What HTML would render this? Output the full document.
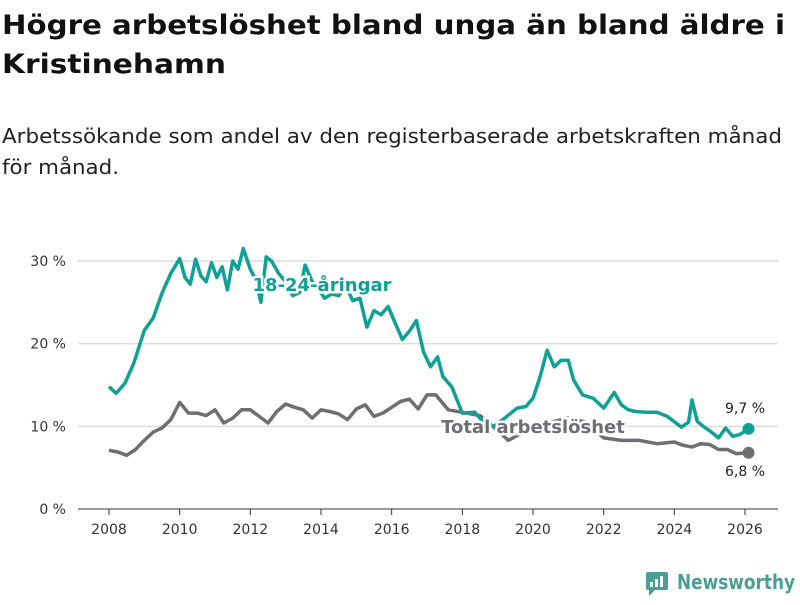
<!DOCTYPE html>
<html><head><meta charset="utf-8"><style>
body{margin:0;background:#fff;}
svg text{font-family:"DejaVu Sans","Liberation Sans",sans-serif;}
</style></head><body>
<svg id="chart" width="800" height="600" xmlns="http://www.w3.org/2000/svg">
<text x="2" y="34" font-size="27" font-weight="bold" fill="#111" textLength="783" lengthAdjust="spacingAndGlyphs">Högre arbetslöshet bland unga än bland äldre i</text>
<text x="2" y="73" font-size="27" font-weight="bold" fill="#111" textLength="224" lengthAdjust="spacingAndGlyphs">Kristinehamn</text>
<text x="2" y="143" font-size="20" fill="#222" textLength="780" lengthAdjust="spacingAndGlyphs">Arbetssökande som andel av den registerbaserade arbetskraften månad</text>
<text x="2" y="174" font-size="20" fill="#222" textLength="117" lengthAdjust="spacingAndGlyphs">för månad.</text>
<g id="grid"></g><g id="xaxis"></g><g id="series"></g><g id="labels"></g>
<g transform="translate(646,572)">
<rect x="0" y="0" width="22" height="18" rx="2" fill="#4a9e94"/><path d="M3,18 L3,24 L9,18 Z" fill="#4a9e94"/>
<rect x="4" y="10" width="3" height="5" fill="#fff"/><rect x="9" y="7" width="3" height="8" fill="#fff"/><rect x="14" y="4" width="3" height="11" fill="#fff"/>
<text x="31" y="17" font-size="20" font-weight="bold" fill="#4a9e94" textLength="118" lengthAdjust="spacingAndGlyphs">Newsworthy</text>
</g>
</svg>
<script>
const yTicks=[0,10,20,30];
const yTickLabels=["0 %","10 %","20 %","30 %"];
const xTicks=[2008,2010,2012,2014,2016,2018,2020,2022,2024,2026];
const youthDates=[2008,2008.2,2008.45,2008.7,2009,2009.25,2009.5,2009.75,2010,2010.15,2010.3,2010.45,2010.6,2010.75,2010.9,2011.05,2011.2,2011.35,2011.5,2011.65,2011.8,2012,2012.15,2012.3,2012.45,2012.6,2012.8,2013,2013.2,2013.4,2013.55,2013.75,2013.95,2014.1,2014.3,2014.5,2014.7,2014.9,2015.1,2015.3,2015.5,2015.7,2015.9,2016.1,2016.3,2016.5,2016.7,2016.9,2017.1,2017.3,2017.45,2017.7,2018,2018.35,2018.6,2018.9,2019.2,2019.55,2019.8,2020,2020.2,2020.4,2020.6,2020.8,2021,2021.15,2021.4,2021.7,2022,2022.3,2022.5,2022.7,2022.9,2023.2,2023.5,2023.8,2024.2,2024.4,2024.5,2024.65,2024.85,2025.05,2025.25,2025.45,2025.65,2025.85,2026.1];
const youthValues=[14.8,14.0,15.2,17.6,21.6,23.1,26.1,28.5,30.3,28.0,27.2,30.2,28.2,27.5,29.8,28.0,29.3,26.5,30.0,29.0,31.5,29.0,27.8,25.0,30.5,30.0,28.5,27.5,25.8,26.2,29.5,27.5,26.5,25.5,26.0,25.8,27.0,25.2,25.5,22.0,24.0,23.5,24.5,22.5,20.5,21.5,22.8,19.0,17.2,18.4,16.0,14.8,11.6,11.7,10.5,10.0,11.0,12.2,12.4,13.4,16.0,19.2,17.2,18.0,18.0,15.6,13.8,13.4,12.2,14.1,12.6,12.0,11.8,11.7,11.7,11.2,9.9,10.5,13.2,10.6,9.9,9.3,8.6,9.8,8.8,9.0,9.7];
const totalDates=[2008,2008.25,2008.5,2008.75,2009,2009.25,2009.5,2009.75,2010,2010.25,2010.5,2010.75,2011,2011.25,2011.5,2011.75,2012,2012.25,2012.5,2012.75,2013,2013.25,2013.5,2013.75,2014,2014.25,2014.5,2014.75,2015,2015.25,2015.5,2015.75,2016,2016.25,2016.5,2016.75,2017,2017.25,2017.6,2018,2018.5,2019,2019.3,2019.6,2020,2020.5,2021,2021.5,2022,2022.5,2023,2023.5,2024,2024.25,2024.5,2024.75,2025,2025.25,2025.5,2025.75,2026.1];
const totalValues=[7.1,6.9,6.5,7.2,8.3,9.3,9.8,10.8,12.9,11.6,11.6,11.3,12.0,10.4,11.0,12.0,12.0,11.2,10.4,11.8,12.7,12.3,12.0,11.0,12.0,11.8,11.5,10.8,12.1,12.6,11.2,11.6,12.3,13.0,13.3,12.1,13.8,13.8,12.0,11.7,11.3,9.5,8.3,9.0,9.5,10.5,11.0,10.5,8.6,8.3,8.3,7.9,8.1,7.7,7.5,7.9,7.8,7.2,7.2,6.7,6.8];
const NS="http://www.w3.org/2000/svg";
const X=y=>109+(y-2008)*(745-109)/18;
const Y=v=>509-v*(509-261)/30;
function mk(tag,parent,attrs){const e=document.createElementNS(NS,tag);for(const k in attrs)e.setAttribute(k,attrs[k]);document.getElementById(parent).appendChild(e);return e;}
yTicks.forEach((t,i)=>{
 const l=mk('line','grid',{x1:78,x2:778,y1:Y(t),y2:Y(t),stroke:t===0?'#333':'#ddd','stroke-width':t===0?1:1.5});
 
 
 const tx=mk('text','grid',{x:66,y:Y(t)+5,'font-size':14,fill:'#333','text-anchor':'end'});tx.textContent=yTickLabels[i];
 
 
});
xTicks.forEach(t=>{
 const l=mk('line','xaxis',{x1:X(t),x2:X(t),y1:509,y2:515,stroke:'#333'});
 
 
 const tx=mk('text','xaxis',{x:X(t),y:534,'font-size':14,fill:'#333','text-anchor':'middle'});tx.textContent=t;
 
 
});
function line(dates,vals,color,name){
 const d=dates.map((t,i)=>(i?'L':'M')+X(t).toFixed(1)+','+Y(vals[i]).toFixed(1)).join(' ');
 const p=mk('path','series',{d:d,fill:'none',stroke:color,'stroke-width':3.5,'stroke-linejoin':'round'});
 
 
 const n=dates.length-1;
 const c=mk('circle','series',{cx:X(dates[n]),cy:Y(vals[n]),r:6,fill:color});
 
 
}
line(totalDates,totalValues,'#6f6e73','total-line');
line(youthDates,youthValues,'#10a196','youth-line');
function lab(x,y,txt,color,name,size,bold,halo){
 if(halo){const h=mk('text','labels',{x:x,y:y,'font-size':size,'font-weight':bold?'bold':'normal',fill:'#fff',stroke:'#fff','stroke-width':5,'text-anchor':'middle'});h.textContent=txt;
 
 }
 const t=mk('text','labels',{x:x,y:y,'font-size':size,'font-weight':bold?'bold':'normal',fill:color,'text-anchor':'middle'});t.textContent=txt;
 
 
}
lab(322,291,'18-24-åringar','#10a196','youth-series-label',18,true,true);
lab(533,433,'Total arbetslöshet','#6f6e73','total-series-label',18,true,true);
lab(745,413,'9,7 %','#222','youth-end-value',14,false,false);
lab(745,476,'6,8 %','#222','total-end-value',14,false,false);
</script>
</body></html>
